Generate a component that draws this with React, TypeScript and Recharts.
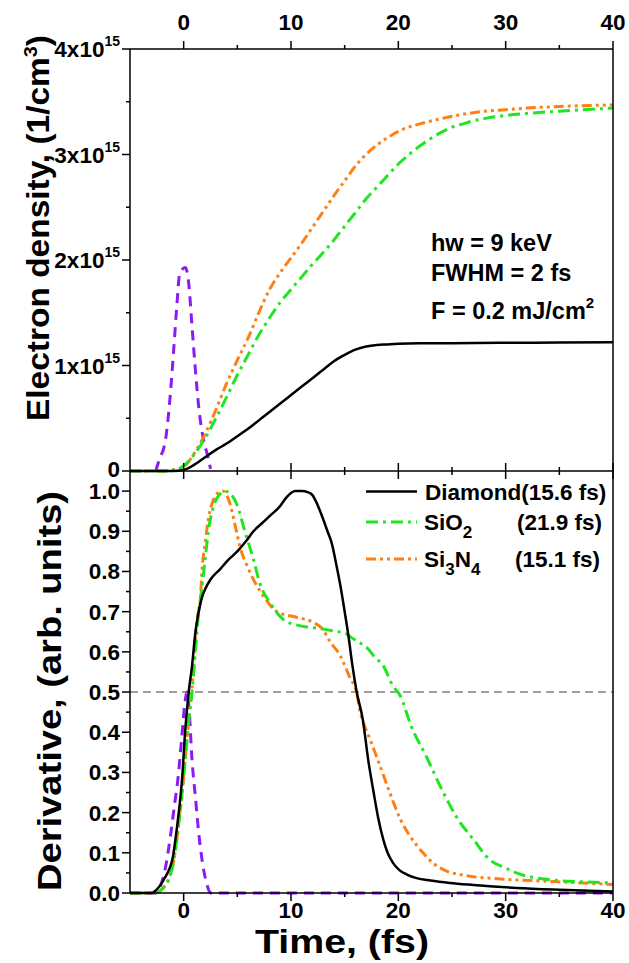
import React from "react";
import { LineChart, Line, XAxis, YAxis, ReferenceLine } from "recharts";

// ---- data (time in fs) ----
const timeTicks = [0, 5, 10, 15, 20, 25, 30, 35, 40];
const densityTicks = [0, 0.5, 1, 1.5, 2, 2.5, 3, 3.5, 4]; // units of 1e15 cm^-3
const derivTicks = [0, 0.05, 0.1, 0.15, 0.2, 0.25, 0.3, 0.35, 0.4, 0.45, 0.5, 0.55, 0.6, 0.65, 0.7, 0.75, 0.8, 0.85, 0.9, 0.95, 1.0];

// electron density, 1e15 cm^-3
const diamondDensityT = [-5, -2, -1, 0, 1, 2, 3, 4, 5, 6, 7, 8, 9, 10, 11, 12, 13, 14, 15, 16, 17, 18, 19, 20, 22, 25, 30, 35, 40];
const diamondDensity = [0, 0, 0, 0.01, 0.06, 0.13, 0.2, 0.26, 0.33, 0.4, 0.48, 0.56, 0.64, 0.72, 0.8, 0.88, 0.96, 1.04, 1.1, 1.15, 1.18, 1.195, 1.2, 1.205, 1.21, 1.212, 1.215, 1.218, 1.22];

const sio2DensityT = [-5, -2, -1, 0, 1, 2, 3, 4, 5, 6, 7, 8, 9, 10, 11, 12, 13, 14, 15, 16, 17, 18, 19, 20, 21, 22, 23, 24, 25, 26, 27, 28, 30, 32, 35, 40];
const sio2Density = [0, 0, 0.01, 0.05, 0.16, 0.31, 0.5, 0.7, 0.91, 1.1, 1.29, 1.45, 1.6, 1.72, 1.84, 1.96, 2.07, 2.19, 2.32, 2.45, 2.58, 2.69, 2.8, 2.91, 3.0, 3.08, 3.15, 3.21, 3.26, 3.29, 3.32, 3.34, 3.37, 3.39, 3.41, 3.44];

const si3n4DensityT = [-5, -2, -1, 0, 1, 2, 3, 4, 5, 6, 7, 8, 9, 10, 11, 12, 13, 14, 15, 16, 17, 18, 19, 20, 22, 24, 26, 28, 30, 32, 35, 40];
const si3n4Density = [0, 0, 0.01, 0.04, 0.17, 0.35, 0.58, 0.83, 1.05, 1.26, 1.5, 1.72, 1.88, 2.02, 2.16, 2.31, 2.46, 2.61, 2.75, 2.89, 3.0, 3.09, 3.16, 3.22, 3.29, 3.34, 3.38, 3.41, 3.425, 3.44, 3.455, 3.47];

const pulseTopT = [-2.6, -2.3, -1.7, -1.24, -0.93, -0.62, -0.37, 0.16, 0.47, 0.78, 1.09, 1.4, 1.86, 2.3, 2.5];
const pulseTop = [0, 0.1, 0.29, 0.73, 1.15, 1.59, 1.87, 1.93, 1.78, 1.37, 0.96, 0.61, 0.29, 0.12, 0.02];

// derivative, arb. units
const diamondDerivT = [-5, -3, -2.8, -2.3, -1.86, -1.5, -1.24, -1, -0.77, -0.46, -0.15, 0.16, 0.47, 0.78, 1.1, 1.4, 1.7, 2.0, 2.5, 3.4, 4.2, 5.0, 5.8, 6.5, 7.3, 8.1, 8.9, 9.6, 10.4, 11.0, 11.6, 12.0, 12.4, 13.0, 13.4, 13.8, 14.2, 14.6, 15.0, 15.35, 15.7, 16.1, 16.7, 17.2, 17.7, 18.1, 18.6, 19.0, 19.5, 20.1, 20.8, 21.7, 23, 24.8, 27, 31, 35, 40];
const diamondDeriv = [0, 0, 0.002, 0.015, 0.033, 0.05, 0.066, 0.09, 0.133, 0.2, 0.283, 0.41, 0.5, 0.565, 0.65, 0.7, 0.735, 0.756, 0.78, 0.806, 0.83, 0.85, 0.875, 0.9, 0.92, 0.94, 0.96, 0.985, 1.0, 1.0, 0.997, 0.99, 0.97, 0.93, 0.9, 0.87, 0.82, 0.765, 0.7, 0.64, 0.57, 0.503, 0.43, 0.33, 0.25, 0.19, 0.133, 0.1, 0.075, 0.057, 0.046, 0.037, 0.031, 0.025, 0.02, 0.0125, 0.008, 0.004];

const sio2DerivT = [-5, -2.6, -2, -1.4, -1, -0.6, -0.3, 0, 0.3, 0.55, 0.78, 1.09, 1.4, 1.7, 2.0, 2.3, 2.8, 3.4, 3.8, 4.2, 5.0, 5.7, 6.5, 7.1, 8.1, 9.3, 10.5, 12.7, 14.0, 15.2, 15.6, 16.4, 17.2, 17.7, 18.6, 19.5, 20.2, 21.2, 22.6, 23.9, 25.4, 27.0, 28.5, 30, 31, 34.1, 37, 40];
const sio2Deriv = [0, 0, 0.01, 0.033, 0.07, 0.14, 0.21, 0.29, 0.38, 0.45, 0.5, 0.6, 0.7, 0.76, 0.83, 0.9, 0.964, 0.993, 1.0, 0.997, 0.964, 0.9, 0.83, 0.77, 0.72, 0.68, 0.667, 0.658, 0.652, 0.644, 0.636, 0.623, 0.607, 0.59, 0.565, 0.515, 0.49, 0.415, 0.34, 0.266, 0.19, 0.133, 0.083, 0.062, 0.05, 0.033, 0.028, 0.025];

const si3n4DerivT = [-5, -2.6, -2, -1.4, -1, -0.6, -0.3, 0, 0.3, 0.55, 0.75, 1.0, 1.25, 1.55, 1.7, 2.0, 2.3, 2.8, 3.3, 3.66, 4.0, 4.3, 4.8, 5.3, 5.9, 6.5, 7.4, 8.7, 10.5, 12.1, 13.0, 13.6, 14.6, 15.5, 16.1, 16.4, 17.4, 18.3, 19.2, 20.2, 21.1, 22.3, 23.2, 24.2, 26.4, 29.5, 34.1, 40];
const si3n4Deriv = [0, 0, 0.01, 0.035, 0.07, 0.14, 0.21, 0.29, 0.38, 0.45, 0.5, 0.6, 0.68, 0.73, 0.8, 0.87, 0.93, 0.98, 0.997, 1.0, 0.99, 0.97, 0.914, 0.856, 0.815, 0.78, 0.74, 0.7, 0.686, 0.673, 0.655, 0.627, 0.59, 0.535, 0.5, 0.457, 0.38, 0.316, 0.25, 0.183, 0.141, 0.1, 0.075, 0.058, 0.043, 0.035, 0.029, 0.021];

const pulseBottomT = [-5, -2.6, -2.2, -1.8, -1.24, -0.85, -0.55, -0.2, 0.1, 0.3, 0.5, 0.78, 1.09, 1.4, 1.71, 2.18, 2.5, 40];
const pulseBottom = [0, 0, 0.015, 0.05, 0.14, 0.22, 0.28, 0.38, 0.47, 0.5, 0.46, 0.33, 0.24, 0.15, 0.083, 0.02, 0, 0];

const pts = (t: number[], v: number[]) => t.map((x, i) => ({ t: x, v: v[i] }));

// ---- styles ----
const FONT = "'Liberation Sans', Arial, Helvetica, sans-serif";
const tickText = { fontFamily: FONT, fontWeight: 700, fontSize: 22.5, fill: "#000" } as const;
const AX = { stroke: "#000", strokeWidth: 1.5 };

const C_DIAMOND = "#000000";
const C_SIO2 = "#1FE61F";
const C_SI3N4 = "#FF7F15";
const C_PULSE = "#8A1CF2";
const DASH_SIO2 = "12 5 3 5";
const DASH_SI3N4 = "10 4 3 4 3 4";
const DASH_PULSE = "10 7";

const isMult = (v: number, step: number) => Math.abs(v / step - Math.round(v / step)) < 1e-6;

// ---- tick renderers ----
const TopTimeTick = (p: any) => {
  const major = isMult(p.payload.value, 10);
  return (
    <g>
      <line x1={p.x} y1={p.y} x2={p.x} y2={p.y - (major ? 8 : 4)} {...AX} />
      {major && (
        <text x={p.x} y={p.y - 19} textAnchor="middle" style={tickText}>
          {p.payload.value}
        </text>
      )}
    </g>
  );
};

const CrossTimeTick = (p: any) => {
  const len = isMult(p.payload.value, 10) ? 8 : 4;
  return <line x1={p.x} y1={p.y - len} x2={p.x} y2={p.y + len} {...AX} />;
};

const BottomTimeTick = (p: any) => {
  const major = isMult(p.payload.value, 10);
  return (
    <g>
      <line x1={p.x} y1={p.y} x2={p.x} y2={p.y + (major ? 8 : 4)} {...AX} />
      {major && (
        <text x={p.x} y={p.y + 25} textAnchor="middle" style={tickText}>
          {p.payload.value}
        </text>
      )}
    </g>
  );
};

const DensityTick = (p: any) => {
  const v = p.payload.value;
  const major = isMult(v, 1);
  return (
    <g>
      <line x1={p.x} y1={p.y} x2={p.x - (major ? 8 : 4)} y2={p.y} {...AX} />
      {major && (
        <text x={p.x - 10} y={p.y + (v === 0 ? 6 : 8)} textAnchor="end" style={tickText}>
          {v === 0 ? "0" : `${v}x10`}
          {v !== 0 && (
            <tspan dy={-11} fontSize={14}>
              15
            </tspan>
          )}
        </text>
      )}
    </g>
  );
};

const DerivTick = (p: any) => {
  const v = p.payload.value;
  const major = isMult(v, 0.1);
  return (
    <g>
      <line x1={p.x} y1={p.y} x2={p.x - (major ? 8 : 4)} y2={p.y} {...AX} />
      {major && (
        <text x={p.x - 10} y={p.y + 8} textAnchor="end" style={tickText}>
          {v.toFixed(1)}
        </text>
      )}
    </g>
  );
};

const RightTick = (p: any) => <line x1={p.x} y1={p.y} x2={p.x - 4} y2={p.y} {...AX} />;

const timeAxis = {
  type: "number" as const,
  dataKey: "t",
  domain: [-5, 40],
  allowDataOverflow: true,
  ticks: timeTicks,
  interval: 0 as const,
  tickSize: 0,
  tickMargin: 0,
  tickLine: false,
  axisLine: AX,
};

const lbl = { fontFamily: FONT, fontWeight: 700, fill: "#000" } as const;

export default function App() {
  return (
    <div style={{ position: "absolute", left: 0, top: 0, width: 629, height: 963, background: "#fff" }}>
      {/* top panel: electron density */}
      <div style={{ position: "absolute", left: 0, top: 0 }}>
        <LineChart width={629} height={491} margin={{ top: 9, right: 0, bottom: 0, left: 30 }}>
          <XAxis xAxisId="top" orientation="top" height={40} {...timeAxis} tick={(p: any) => <TopTimeTick {...p} />} />
          <XAxis xAxisId="bot" orientation="bottom" height={20} {...timeAxis} tick={(p: any) => <CrossTimeTick {...p} />} />
          <YAxis yAxisId="l" width={100} type="number" domain={[0, 4]} ticks={densityTicks} interval={0}
            tickSize={0} tickMargin={0} tickLine={false} axisLine={AX} tick={(p: any) => <DensityTick {...p} />} />
          <YAxis yAxisId="r" orientation="right" width={16} type="number" domain={[0, 4]} ticks={densityTicks} interval={0}
            tickSize={0} tickMargin={0} tickLine={false} axisLine={AX} tick={(p: any) => <RightTick {...p} />} />
          <Line xAxisId="bot" yAxisId="l" data={pts(pulseTopT, pulseTop)} dataKey="v" type="monotone"
            stroke={C_PULSE} strokeWidth={3} strokeDasharray={DASH_PULSE} dot={false} isAnimationActive={false} />
          <Line xAxisId="bot" yAxisId="l" data={pts(si3n4DensityT, si3n4Density)} dataKey="v" type="monotone"
            stroke={C_SI3N4} strokeWidth={3} strokeDasharray={DASH_SI3N4} dot={false} isAnimationActive={false} />
          <Line xAxisId="bot" yAxisId="l" data={pts(sio2DensityT, sio2Density)} dataKey="v" type="monotone"
            stroke={C_SIO2} strokeWidth={3} strokeDasharray={DASH_SIO2} dot={false} isAnimationActive={false} />
          <Line xAxisId="bot" yAxisId="l" data={pts(diamondDensityT, diamondDensity)} dataKey="v" type="monotone"
            stroke={C_DIAMOND} strokeWidth={2.5} dot={false} isAnimationActive={false} />
        </LineChart>
      </div>

      {/* bottom panel: derivative */}
      <div style={{ position: "absolute", left: 0, top: 461 }}>
        <LineChart width={629} height={502} margin={{ top: 10, right: 0, bottom: 0, left: 30 }}>
          <XAxis xAxisId="bot" orientation="bottom" height={70} {...timeAxis} tick={(p: any) => <BottomTimeTick {...p} />} />
          <YAxis yAxisId="l" width={100} type="number" domain={[0, 1.05]} ticks={derivTicks} interval={0}
            tickSize={0} tickMargin={0} tickLine={false} axisLine={AX} tick={(p: any) => <DerivTick {...p} />} />
          <YAxis yAxisId="r" orientation="right" width={16} type="number" domain={[0, 1.05]} ticks={derivTicks} interval={0}
            tickSize={0} tickMargin={0} tickLine={false} axisLine={AX} tick={(p: any) => <RightTick {...p} />} />
          <ReferenceLine xAxisId="bot" yAxisId="l" y={0.5} stroke="#808080" strokeWidth={1.5} strokeDasharray="8 5" />
          <Line xAxisId="bot" yAxisId="l" data={pts(pulseBottomT, pulseBottom)} dataKey="v" type="monotone"
            stroke={C_PULSE} strokeWidth={3} strokeDasharray={DASH_PULSE} dot={false} isAnimationActive={false} />
          <Line xAxisId="bot" yAxisId="l" data={pts(si3n4DerivT, si3n4Deriv)} dataKey="v" type="monotone"
            stroke={C_SI3N4} strokeWidth={3} strokeDasharray={DASH_SI3N4} dot={false} isAnimationActive={false} />
          <Line xAxisId="bot" yAxisId="l" data={pts(sio2DerivT, sio2Deriv)} dataKey="v" type="monotone"
            stroke={C_SIO2} strokeWidth={3} strokeDasharray={DASH_SIO2} dot={false} isAnimationActive={false} />
          <Line xAxisId="bot" yAxisId="l" data={pts(diamondDerivT, diamondDeriv)} dataKey="v" type="monotone"
            stroke={C_DIAMOND} strokeWidth={2.5} dot={false} isAnimationActive={false} />
        </LineChart>
      </div>

      {/* titles, annotation, legend */}
      <svg width={629} height={963} style={{ position: "absolute", left: 0, top: 0, pointerEvents: "none" }}>
        <text transform="translate(49,228) rotate(-90)" textAnchor="middle" textLength={386} lengthAdjust="spacingAndGlyphs"
          style={{ ...lbl, fontSize: 32 }}>
          Electron density, (1/cm<tspan dy={-12} fontSize={19}>3</tspan><tspan dy={12}>)</tspan>
        </text>
        <text transform="translate(61,691) rotate(-90)" textAnchor="middle" textLength={400} lengthAdjust="spacingAndGlyphs"
          style={{ ...lbl, fontSize: 34 }}>
          Derivative, (arb. units)
        </text>
        <text x={342} y={953} textAnchor="middle" textLength={174} lengthAdjust="spacingAndGlyphs"
          style={{ ...lbl, fontSize: 33 }}>
          Time, (fs)
        </text>

        <g style={{ ...lbl, fontSize: 23.5 }}>
          <text x={431} y={251}>hw = 9 keV</text>
          <text x={431} y={281}>FWHM = 2 fs</text>
          <text x={431} y={319}>
            F = 0.2 mJ/cm<tspan dy={-11} fontSize={15}>2</tspan>
          </text>
        </g>

        <g style={{ ...lbl, fontSize: 22.5 }}>
          <line x1={366} y1={491.5} x2={417} y2={491.5} stroke={C_DIAMOND} strokeWidth={2.5} />
          <text x={425} y={499.5}>Diamond(15.6 fs)</text>
          <line x1={366} y1={522} x2={417} y2={522} stroke={C_SIO2} strokeWidth={3} strokeDasharray={DASH_SIO2} />
          <text x={424} y={530}>
            SiO<tspan dy={8} fontSize={17}>2</tspan>
          </text>
          <text x={517} y={530}>(21.9 fs)</text>
          <line x1={366} y1={559} x2={417} y2={559} stroke={C_SI3N4} strokeWidth={3} strokeDasharray={DASH_SI3N4} />
          <text x={424} y={567}>
            Si<tspan dy={8} fontSize={17}>3</tspan><tspan dy={-8}>N</tspan><tspan dy={8} fontSize={17}>4</tspan>
          </text>
          <text x={515} y={567}>(15.1 fs)</text>
        </g>
      </svg>
    </div>
  );
}
